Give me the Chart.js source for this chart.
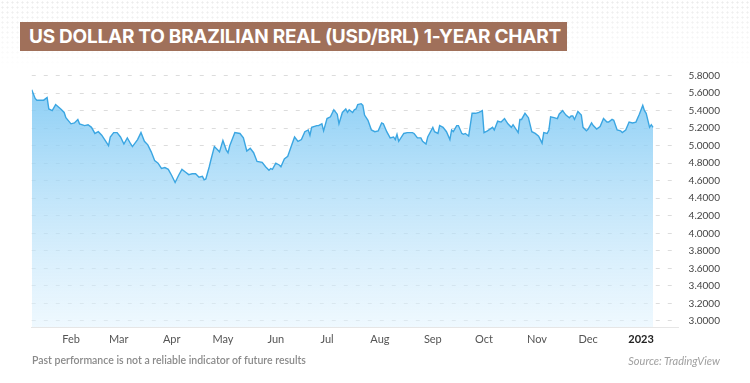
<!DOCTYPE html>
<html><head><meta charset="utf-8">
<script src="https://cdn.jsdelivr.net/npm/chart.js@4"></script>
<style>
html,body{margin:0;padding:0;background:#fff;}
#wrap{position:relative;width:750px;height:383px;overflow:hidden;background:#fff;}
#dots{position:absolute;left:0;top:0;width:750px;height:70px;background-image:radial-gradient(circle,#e9e9e9 0.9px,transparent 1.2px);background-size:5px 5px;-webkit-mask-image:linear-gradient(to bottom,rgba(0,0,0,0.9),rgba(0,0,0,0));mask-image:linear-gradient(to bottom,rgba(0,0,0,0.9),rgba(0,0,0,0));}
canvas{position:absolute;left:0;top:0;}
#title{position:absolute;left:20px;top:22px;height:29px;width:547px;background:#a0705a;color:#fff;font:700 19px "Inter",sans-serif;line-height:29px;padding-left:9px;box-sizing:border-box;white-space:nowrap;letter-spacing:-0.25px;}
#disc{position:absolute;left:32px;top:354px;font:600 10.5px "Lato",sans-serif;color:#8a8a8a;}
#src{position:absolute;right:30px;top:354px;font:italic 11px "Lato",sans-serif;color:#a0a0a0;}
</style></head>
<body><div id="wrap"><div id="dots"></div><canvas id="c" width="750" height="383"></canvas>
<div id="title">US DOLLAR TO BRAZILIAN REAL (USD/BRL) 1-YEAR CHART</div>
<div id="disc">Past performance is not a reliable indicator of future results</div>
<div id="src">Source: TradingView</div></div>
<script>
// day number counted from 1 Jan 2022 (day 0)
const dayOfYear = [8,10,11,15,17,18,20,22,25,27,28,31,33,35,36,39,41,43,45,47,49,51,53,54,56,58,60,62,64,66,67,
70,72,74,76,78,80,82,84,86,88,90,92,94,96,98,100,102,104,106,108,109,110,112,113,115,117,118,120,122,123,124,127,
130,132,134,136,138,140,143,145,147,148,149,151,153,154,156,158,160,162,164,166,168,170,171,172,175,176,178,179,181,183,185,187,188,190,192,
193,194,196,197,198,199,201,202,203,205,207,209,211,213,214,216,218,220,221,222,223,226,228,231,232,234,236,237,239,240,243,244,246,247,249,251,253,
254,255,257,258,260,261,262,264,266,268,270,272,273,275,278,279,281,283,285,287,289,290,293,294,295,297,299,301,303,305,307,308,310,311,312,314,
316,317,319,321,323,324,325,326,328,330,331,333,334,336,337,339,341,343,345,346,348,349,351,353,354,356,358,360,362,364,366,367,368,370,371,372];
const usdBrl = [5.64,5.54,5.52,5.52,5.55,5.42,5.40,5.47,5.42,5.38,5.32,5.25,5.26,5.30,5.25,5.23,5.24,5.21,5.14,5.16,5.12,5.06,5.00,5.10,5.15,5.15,5.10,5.02,5.09,5.02,4.99,
5.07,5.15,5.05,5.01,4.93,4.83,4.80,4.74,4.75,4.73,4.66,4.58,4.66,4.73,4.70,4.67,4.68,4.68,4.64,4.65,4.61,4.62,4.76,4.84,4.99,4.95,4.93,5.06,4.95,4.92,5.00,5.15,
5.14,5.09,4.94,4.97,4.92,4.82,4.81,4.76,4.72,4.74,4.73,4.80,4.78,4.76,4.85,4.88,4.99,5.10,5.05,5.07,5.16,5.18,5.12,5.21,5.23,5.23,5.25,5.17,5.31,5.33,5.41,5.36,5.25,5.38,5.42,
5.38,5.41,5.38,5.41,5.42,5.47,5.48,5.46,5.35,5.29,5.18,5.16,5.17,5.26,5.25,5.16,5.09,5.10,5.07,5.13,5.05,5.14,5.15,5.15,5.14,5.09,5.09,5.05,5.02,5.10,5.21,5.16,5.14,5.23,5.21,5.16,5.07,
5.18,5.16,5.23,5.23,5.14,5.13,5.14,5.11,5.37,5.37,5.38,5.40,5.15,5.17,5.21,5.18,5.28,5.27,5.31,5.25,5.21,5.24,5.15,5.30,5.30,5.37,5.32,5.16,5.14,5.11,5.03,5.15,5.14,5.18,5.33,5.32,
5.31,5.36,5.40,5.35,5.32,5.34,5.34,5.30,5.39,5.35,5.21,5.17,5.19,5.26,5.23,5.19,5.22,5.31,5.27,5.27,5.30,5.29,5.18,5.17,5.15,5.18,5.27,5.26,5.27,5.36,5.46,5.40,5.37,5.21,5.24,5.21];
const monthTickDays = [31,59,90,120,151,181,212,243,273,304,334,365];
const monthTickLabels = ['Feb','Mar','Apr','May','Jun','Jul','Aug','Sep','Oct','Nov','Dec','2023'];
const yTicks = [3.0,3.2,3.4,3.6,3.8,4.0,4.2,4.4,4.6,4.8,5.0,5.2,5.4,5.6,5.8];

const points = dayOfYear.map((d,i)=>({x:d,y:usdBrl[i]}));
const ctx = document.getElementById('c').getContext('2d');
new Chart(ctx,{
  type:'line',
  data:{datasets:[{
    data:points,
    borderColor:'#3ba6e2',
    borderWidth:1.4,
    pointRadius:0,
    tension:0,
    fill:'start',
    backgroundColor:(c)=>{
      const a=c.chart.chartArea; if(!a) return 'rgba(140,205,245,0.6)';
      const g=c.chart.ctx.createLinearGradient(0,88,0,a.bottom);
      g.addColorStop(0,'rgba(120,198,243,0.85)');
      g.addColorStop(1,'rgba(225,243,254,0.55)');
      return g;
    }
  }]},
  options:{
    responsive:false,devicePixelRatio:1,animation:false,
    layout:{padding:{left:31.75,right:0,top:66.9,bottom:0}},
    plugins:{legend:{display:false},tooltip:{enabled:false}},
    scales:{
      x:{type:'linear',min:8,max:387,
        afterFit:(s)=>{s.height=56;},
        afterBuildTicks:(s)=>{s.ticks=monthTickDays.map(v=>({value:v}));},
        grid:{display:false,drawTicks:false},
        border:{display:true,color:'#e6e6e6',width:1},
        ticks:{padding:6,maxRotation:0,autoSkip:false,
          callback:(v)=>{const i=monthTickDays.indexOf(v);return i<0?'':monthTickLabels[i];},
          color:(c)=>c.tick && c.tick.value===365?'#222':'#555',
          font:(c)=>c.tick && c.tick.value===365?{family:'Lato',size:11,weight:'bold'}:{family:'Lato',size:11}}
      },
      y:{position:'right',min:2.93,max:5.9,
        afterFit:(s)=>{s.width=71.4;},
        afterBuildTicks:(s)=>{s.ticks=yTicks.map(v=>({value:v}));},
        grid:{color:'#dcdcdc',lineWidth:1,drawTicks:false},
        border:{display:false,dash:[4,8]},
        ticks:{padding:10,color:'#444',font:{family:'Lato',size:10},callback:(v)=>v.toFixed(4)}
      }
    }
  }
});
</script>
</body></html>
